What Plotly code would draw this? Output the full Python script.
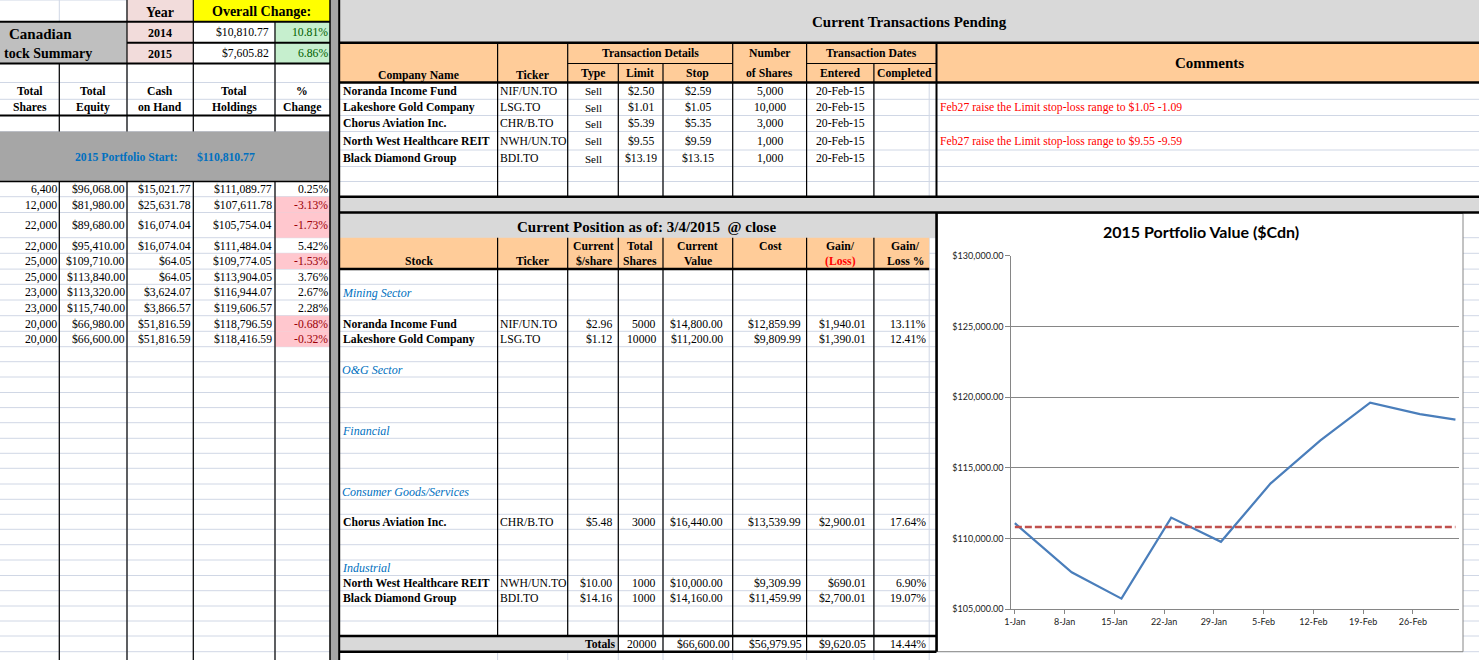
"""Resumo da carteira canadense 2015: planilha + curva de valor semanal."""

import plotly.graph_objects as go

W, H = 1479, 660

# ---------------- dados ----------------
SUMMARY_YEARS = ["2014", "2015"]
SUMMARY_CHANGE = [10810.77, 7605.82]
SUMMARY_PCT = [10.81, 6.86]
PORTFOLIO_START = 110810.77

WEEK_DATES = ["2015-01-01", "2015-01-09", "2015-01-16", "2015-01-23", "2015-01-30",
              "2015-02-06", "2015-02-13", "2015-02-20", "2015-02-27", "2015-03-04"]
TOTAL_SHARES = [6400, 12000, 22000, 22000, 25000, 25000, 23000, 23000, 20000, 20000]
TOTAL_EQUITY = [96068.00, 81980.00, 89680.00, 95410.00, 109710.00,
                113840.00, 113320.00, 115740.00, 66980.00, 66600.00]
CASH_ON_HAND = [15021.77, 25631.78, 16074.04, 16074.04, 64.05,
                64.05, 3624.07, 3866.57, 51816.59, 51816.59]
TOTAL_HOLDINGS = [111089.77, 107611.78, 105754.04, 111484.04, 109774.05,
                  113904.05, 116944.07, 119606.57, 118796.59, 118416.59]
PCT_CHANGE = [0.25, -3.13, -1.73, 5.42, -1.53, 3.76, 2.67, 2.28, -0.68, -0.32]

PENDING_COMPANY = ["Noranda Income Fund", "Lakeshore Gold Company", "Chorus Aviation Inc.",
                   "North West Healthcare REIT", "Black Diamond Group"]
PENDING_TICKER = ["NIF/UN.TO", "LSG.TO", "CHR/B.TO", "NWH/UN.TO", "BDI.TO"]
PENDING_TYPE = ["Sell", "Sell", "Sell", "Sell", "Sell"]
PENDING_LIMIT = [2.50, 1.01, 5.39, 9.55, 13.19]
PENDING_STOP = [2.59, 1.05, 5.35, 9.59, 13.15]
PENDING_SHARES = [5000, 10000, 3000, 1000, 1000]
PENDING_ENTERED = ["20-Feb-15", "20-Feb-15", "20-Feb-15", "20-Feb-15", "20-Feb-15"]
PENDING_COMMENTS = ["", "Feb27 raise the Limit stop-loss range to $1.05 -1.09", "",
                    "Feb27 raise the Limit stop-loss range to $9.55 -9.59", ""]

SECTORS = ["Mining Sector", "O&G Sector", "Financial", "Consumer Goods/Services", "Industrial"]
POS_COMPANY = ["Noranda Income Fund", "Lakeshore Gold Company", "Chorus Aviation Inc.",
               "North West Healthcare REIT", "Black Diamond Group"]
POS_TICKER = ["NIF/UN.TO", "LSG.TO", "CHR/B.TO", "NWH/UN.TO", "BDI.TO"]
POS_PRICE = [2.96, 1.12, 5.48, 10.00, 14.16]
POS_SHARES = [5000, 10000, 3000, 1000, 1000]
POS_VALUE = [14800.00, 11200.00, 16440.00, 10000.00, 14160.00]
POS_COST = [12859.99, 9809.99, 13539.99, 9309.99, 11459.99]
POS_GAIN = [1940.01, 1390.01, 2900.01, 690.01, 2700.01]
POS_GAIN_PCT = [13.11, 12.41, 17.64, 6.90, 19.07]
TOT_SHARES, TOT_VALUE, TOT_COST, TOT_GAIN, TOT_PCT = 20000, 66600.00, 56979.95, 9620.05, 14.44

# ---------------- grade da planilha (pixels) ----------------
ROW_EDGES = [0, 21.7, 42.7, 63.5, 82.5, 99.3, 115.5, 131.5, 150, 166.5, 181.5, 196.7,
             212.5, 237.7, 253.3, 269.1, 284.3, 300, 315.7, 331.3, 346.7, 361.7, 377,
             392.5, 407.6, 422.7, 438.3, 453.3, 468.3, 484, 499.3, 514.3, 529.3, 544.7,
             560, 575.5, 590.7, 606, 621, 636, 651.7]
LEFT_COLS = [59.3, 127, 193.3, 275]
MID_COLS = [497.6, 567.7, 618.3, 663, 732.7, 806.6, 873.9]
SECTOR_ROWS = [16, 21, 25, 29, 34]
POS_ROWS = [18, 19, 31, 35, 36]

SERIF = "Liberation Serif"
SANS = "Lato"
GRID = "#d0d7e5"
ORANGE = "#ffcc99"
LGRAY = "#d9d9d9"
DGRAY = "#a6a6a6"
BLUE_TXT = "#0070c0"
FS = 11.7

shapes, notes = [], []


def X(x):
    return x / W


def Y(y):
    return 1 - y / H


def rc(i):
    return (ROW_EDGES[i] + ROW_EDGES[i + 1]) / 2 + 0.5


def fill(x0, y0, x1, y1, color, border=None):
    shapes.append(dict(type="rect", xref="paper", yref="paper", layer="below",
                       x0=X(x0), x1=X(x1), y0=Y(y1), y1=Y(y0), fillcolor=color,
                       line=dict(color=border or color, width=1 if border else 0)))


def line(x0, y0, x1, y1, color="black", width=1.2):
    shapes.append(dict(type="line", xref="paper", yref="paper", layer="below",
                       x0=X(x0), x1=X(x1), y0=Y(y0), y1=Y(y1),
                       line=dict(color=color, width=width)))


def text(x, y, s, anchor="center", size=FS, bold=False, italic=False, color="black", family=SERIF):
    notes.append(dict(xref="paper", yref="paper", x=X(x), y=Y(y), text=s, showarrow=False,
                      xanchor=anchor, yanchor="middle", borderpad=0, borderwidth=0,
                      font=dict(family=family, size=size, color=color,
                                weight="bold" if bold else "normal",
                                style="italic" if italic else "normal")))


def money(v):
    return f"${v:,.2f}"


# linhas de grade do Excel
for e in ROW_EDGES:
    line(0, e, W, e, GRID, 1)
for c in LEFT_COLS + MID_COLS + [929.2]:
    line(c, 0, c, H, GRID, 1)

# preenchimentos
fill(127, 0, 193.3, 63.5, "#f2dcdb")
fill(193.3, 0, 330, 21.7, "#ffff00")
fill(275, 21.7, 330, 63.5, "#c6efce")
fill(0, 21.7, 127, 63.5, "#bfbfbf")
fill(0, 131.5, 330, 181.5, DGRAY)
for i, p in enumerate(PCT_CHANGE):
    if p < 0:
        fill(275, ROW_EDGES[10 + i], 330, ROW_EDGES[11 + i], "#ffc7ce")
fill(330, 0, 339, H, DGRAY)
fill(339, 0, W, 42.7, LGRAY)
fill(339, 42.7, W, 82.5, ORANGE)
fill(339, 196.7, W, 212.5, LGRAY)
fill(339, 212.5, 936.5, 237.7, LGRAY)
fill(339, 237.7, 929.2, 269.1, ORANGE)
fill(339, 636, 618.3, 651.7, LGRAY)

# área do gráfico
fill(937.5, 213.5, 1463, 651.7, "white", border="#868686")

# bordas — painel esquerdo
line(0, 21.7, 330, 21.7, width=2)
line(127, 42.7, 330, 42.7, width=2)
line(0, 63.5, 330, 63.5, width=2)
line(0, 115.5, 330, 115.5, width=2)
line(0, 181.5, 330, 181.5, width=1.5)
for c in (127, 193.3):
    line(c, 0, c, 63.5)
line(275, 21.7, 275, 63.5)
for c in LEFT_COLS:
    line(c, 63.5, c, 131.5)
    line(c, 181.5, c, H)
line(330, 0, 330, H, width=1.5)
line(339.2, 0, 339.2, H, width=2)

# bordas — transações pendentes
for yy in (42.7, 82.5, 196.7):
    line(339, yy, W, yy, width=2.5)
for c in (497.6, 567.7, 732.7, 806.6):
    line(c, 42.7, c, 196.7)
for c in (618.3, 663, 873.9):
    line(c, 63.5, c, 196.7)
line(567.7, 63.5, 732.7, 63.5)
line(806.6, 63.5, 936.5, 63.5)
line(936.5, 42.7, 936.5, 196.7, width=2)

# bordas — posição atual
line(339, 212.5, W, 212.5, width=2.5)
line(339, 269.1, 929.2, 269.1, width=2.5)
for c in MID_COLS:
    line(c, 237.7, c, 636 if c < 600 else 651.7)
line(339, 636, 936.5, 636, width=2.5)
line(339, 651.7, 936.5, 651.7, width=2.5)
line(936.5, 212.5, 936.5, 651.7, width=2.5)

# ---------------- textos: painel esquerdo ----------------
text(160, 12, "Year", size=14, bold=True)
text(261.5, 11.5, "Overall Change:", size=14, bold=True)
text(71.5, 33.5, "Canadian", anchor="right", size=15, bold=True)
text(92, 54, "tock Summary", anchor="right", size=14, bold=True)
for i, yr in enumerate(SUMMARY_YEARS):
    text(160, rc(1 + i), yr, size=12, bold=True)
    text(268.5, rc(1 + i), money(SUMMARY_CHANGE[i]), anchor="right")
    text(328, rc(1 + i), f"{SUMMARY_PCT[i]:.2f}%", anchor="right", color="#006100")

for cx, l1, l2 in zip([29.7, 93, 160, 234, 302],
                      ["Total", "Total", "Cash", "Total", "%"],
                      ["Shares", "Equity", "on Hand", "Holdings", "Change"]):
    text(cx, rc(4), l1, bold=True)
    text(cx, rc(5), l2, bold=True)

text(126.7, 157, "2015 Portfolio Start:", bold=True, color=BLUE_TXT)
text(226.3, 157, money(PORTFOLIO_START), bold=True, color=BLUE_TXT)

for i in range(len(TOTAL_SHARES)):
    yy = rc(10 + i)
    text(57, yy, f"{TOTAL_SHARES[i]:,}", anchor="right")
    text(124.5, yy, money(TOTAL_EQUITY[i]), anchor="right")
    text(191, yy, money(CASH_ON_HAND[i]), anchor="right")
    text(272, yy, money(TOTAL_HOLDINGS[i]), anchor="right")
    text(328, yy, f"{PCT_CHANGE[i]:.2f}%", anchor="right",
         color="#9c0006" if PCT_CHANGE[i] < 0 else "black")

# ---------------- textos: transações pendentes ----------------
text(909.5, 21.5, "Current Transactions Pending", size=15, bold=True)
text(418.7, 75.5, "Company Name", bold=True)
text(532.3, 75.5, "Ticker", bold=True)
text(650.2, 53.3, "Transaction Details", bold=True)
text(593, 73.5, "Type", bold=True)
text(640.4, 73.5, "Limit", bold=True)
text(697.6, 73.5, "Stop", bold=True)
text(769.6, 53.3, "Number", bold=True)
text(769.6, 73.5, "of Shares", bold=True)
text(871.5, 53.3, "Transaction Dates", bold=True)
text(840.3, 73.5, "Entered", bold=True)
text(904, 73.5, "Completed", bold=True)
text(1209, 63, "Comments", size=15, bold=True)

for i in range(len(PENDING_COMPANY)):
    yy = rc(4 + i)
    text(342.5, yy, PENDING_COMPANY[i], anchor="left", bold=True)
    text(500, yy, PENDING_TICKER[i], anchor="left")
    text(593, yy, PENDING_TYPE[i], size=11)
    text(640.6, yy, money(PENDING_LIMIT[i]))
    text(697.8, yy, money(PENDING_STOP[i]))
    text(769.6, yy, f"{PENDING_SHARES[i]:,}")
    text(840.3, yy, PENDING_ENTERED[i])
    if PENDING_COMMENTS[i]:
        text(940, yy, PENDING_COMMENTS[i], anchor="left", color="#ff0000")

# ---------------- textos: posição atual ----------------
text(646, 226.5, "Current Position as of: 3/4/2015\u00a0\u00a0@ close", size=15, bold=True)
text(418.7, 261.7, "Stock", bold=True)
text(532.3, 261.7, "Ticker", bold=True)
for cx, l1, l2 in [(593.8, "Current", "$/share"), (640.4, "Total", "Shares"),
                   (697.6, "Current", "Value"), (905.8, "Gain/", "Loss %")]:
    text(cx, 246.7, l1, bold=True)
    text(cx, 261.7, l2, bold=True)
text(770, 246.7, "Cost", bold=True)
text(840.8, 246.7, "Gain/", bold=True)
text(840.8, 261.7, "(Loss)", bold=True, color="#ff0000")

for r, s in zip(SECTOR_ROWS, SECTORS):
    text(342, rc(r), s, anchor="left", size=12, italic=True, color=BLUE_TXT)

for i, r in enumerate(POS_ROWS):
    yy = rc(r)
    text(342.5, yy, POS_COMPANY[i], anchor="left", bold=True)
    text(499.5, yy, POS_TICKER[i], anchor="left")
    text(612, yy, money(POS_PRICE[i]), anchor="right")
    text(656, yy, f"{POS_SHARES[i]}", anchor="right")
    text(723, yy, money(POS_VALUE[i]), anchor="right")
    text(801, yy, money(POS_COST[i]), anchor="right")
    text(866, yy, money(POS_GAIN[i]), anchor="right")
    text(926.5, yy, f"{POS_GAIN_PCT[i]:.2f}%", anchor="right")

yy = rc(39)
text(615.5, yy, "Totals", anchor="right", bold=True)
text(656, yy, f"{TOT_SHARES}", anchor="right")
text(730, yy, money(TOT_VALUE), anchor="right")
text(802, yy, money(TOT_COST), anchor="right")
text(866, yy, money(TOT_GAIN), anchor="right")
text(926.5, yy, f"{TOT_PCT:.2f}%", anchor="right")

# ---------------- gráfico ----------------
text(1201, 231.5, "2015 Portfolio Value ($Cdn)", size=16, bold=True, family=SANS)

fig = go.Figure()
fig.add_trace(go.Scatter(
    x=WEEK_DATES, y=TOTAL_HOLDINGS, mode="lines",
    line=dict(color="#4a7ebb", width=2.25), showlegend=False,
))
fig.add_trace(go.Scatter(
    x=WEEK_DATES, y=[PORTFOLIO_START] * len(WEEK_DATES), mode="lines",
    line=dict(color="#c0504d", width=2.5, dash="7px,3px"), showlegend=False,
))

fig.update_xaxes(
    domain=[X(1011.3), X(1459)],
    type="date",
    range=["2014-12-31 12:00", "2015-03-04 12:00"],
    tick0="2015-01-01", dtick=7 * 86400000, tickformat="%-d-%b",
    showgrid=False, showline=True, linecolor="#868686", linewidth=1,
    ticks="outside", ticklen=4, tickcolor="#868686",
    tickfont=dict(family=SANS, size=9, color="#222"),
    zeroline=False, automargin=False,
)
fig.update_yaxes(
    domain=[Y(609.3), Y(255.7)],
    range=[105000, 130000], dtick=5000, tickformat="$,.2f",
    showgrid=True, gridcolor="#868686", gridwidth=1,
    showline=True, linecolor="#868686", linewidth=1,
    ticks="outside", ticklen=5, tickcolor="#868686",
    tickfont=dict(family=SANS, size=9, color="#222"),
    zeroline=False, automargin=False,
)

fig.update_layout(
    width=W, height=H, autosize=False,
    margin=dict(l=0, r=0, t=0, b=0, pad=0, autoexpand=False),
    paper_bgcolor="white", plot_bgcolor="white",
    shapes=shapes, annotations=notes,
    showlegend=False,
)

fig.write_html("out.html", config={"displayModeBar": False},
               post_script="document.body.style.margin='0px';")
